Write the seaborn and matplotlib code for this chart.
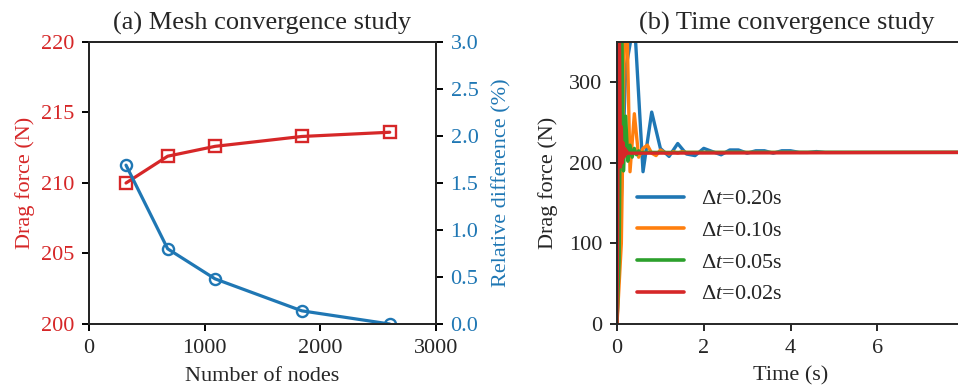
import numpy as np
import pandas as pd
import matplotlib
matplotlib.use("Agg")
import matplotlib.pyplot as plt
import seaborn as sns

# ---- data: (a) mesh convergence ----
nodes = [320, 680, 1090, 1840, 2600]
drag_force = [210.0, 211.9, 212.6, 213.3, 213.6]
rel_diff = [1.69, 0.80, 0.48, 0.14, 0.0]

# ---- data: (b) time convergence ----
t_020 = [0.0, 0.2, 0.4, 0.6, 0.8, 1.0, 1.2, 1.4, 1.6, 1.8, 2.0, 2.2, 2.4, 2.6, 2.8,
         3.0, 3.2, 3.4, 3.6, 3.8, 4.0, 4.2, 4.4, 4.6, 4.8, 8.0]
f_020 = [0, 316, 378, 189, 263, 218, 208, 224, 211, 209, 218, 214, 210, 216, 216,
         212, 215, 215, 212, 215, 215, 213, 213, 214, 213, 213]
t_010 = [0.0, 0.1, 0.2, 0.3, 0.4, 0.5, 0.6, 0.7, 0.8, 0.9, 1.0, 1.1, 1.2, 1.3, 1.4,
         1.5, 1.6, 8.0]
f_010 = [0, 100, 457, 189, 261, 207, 218, 222, 212, 209, 216, 213, 211, 214, 212,
         214, 213, 213]
t_005 = [0.0, 0.05, 0.1, 0.15, 0.2, 0.25, 0.3, 0.35, 0.4, 0.45, 0.5, 0.55, 0.6, 8.0]
f_005 = [0, 80, 430, 190, 258, 202, 222, 207, 218, 210, 215, 212, 213, 213]
t_002 = [0.0, 0.02, 0.04, 0.06, 0.08, 0.1, 0.12, 0.14, 0.16, 0.18, 0.2, 0.22, 0.24, 8.0]
f_002 = [0, 170, 420, 330, 195, 245, 200, 225, 207, 218, 210, 215, 212, 213]
series_labels = [r"$\Delta t$=0.20s", r"$\Delta t$=0.10s", r"$\Delta t$=0.05s", r"$\Delta t$=0.02s"]

RED = "#d62728"
BLUE = "#1f77b4"
palette = ["#1f77b4", "#ff7f0e", "#2ca02c", "#d62728"]

sns.set_style("ticks")
plt.rcParams["font.family"] = ["Liberation Serif", "DejaVu Serif"]
plt.rcParams["mathtext.fontset"] = "custom"
plt.rcParams["mathtext.rm"] = "Liberation Serif"
plt.rcParams["mathtext.it"] = "Liberation Serif:italic"
plt.rcParams["axes.linewidth"] = 1.4
plt.rcParams["xtick.major.width"] = 1.4
plt.rcParams["ytick.major.width"] = 1.4
plt.rcParams["xtick.major.size"] = 5
plt.rcParams["ytick.major.size"] = 5
plt.rcParams["xtick.major.pad"] = 6
plt.rcParams["ytick.major.pad"] = 5.5

FS = 16
fig = plt.figure(figsize=(9.58, 3.88), dpi=100)
W, H = 958.0, 388.0
ax1 = fig.add_axes([89 / W, 1 - 324 / H, 347 / W, 282 / H])
ax3 = fig.add_axes([617 / W, 1 - 324 / H, 347 / W, 282 / H])

# ---- panel (a) ----
dfa = pd.DataFrame({"nodes": nodes, "drag": drag_force, "rel": rel_diff})
sns.lineplot(data=dfa, x="nodes", y="drag", ax=ax1, color=RED, lw=2.3,
             marker="s", markersize=9, markerfacecolor="none",
             markeredgecolor=RED, markeredgewidth=1.7)
ax1.set_xlim(0, 3000)
ax1.set_ylim(200, 220)
ax1.set_xticks([0, 1000, 2000, 3000])
ax1.set_yticks([200, 205, 210, 215, 220])
ax1.set_xlabel("Number of nodes", fontsize=FS, labelpad=6)
ax1.set_ylabel("Drag force (N)", fontsize=FS, color=RED, labelpad=4)
ax1.tick_params(axis="both", labelsize=FS, direction="out", color="black")
ax1.tick_params(axis="y", labelcolor=RED)
ax1.set_title("(a) Mesh convergence study", fontsize=19, pad=9)

ax2 = ax1.twinx()
sns.lineplot(data=dfa, x="nodes", y="rel", ax=ax2, color=BLUE, lw=2.3,
             marker="o", markersize=8, markerfacecolor="none",
             markeredgecolor=BLUE, markeredgewidth=1.7)
ax2.set_ylim(0, 3.0)
ax2.set_yticks([0, 0.5, 1.0, 1.5, 2.0, 2.5, 3.0])
ax2.set_yticklabels(["0.0", "0.5", "1.0", "1.5", "2.0", "2.5", "3.0"])
ax2.set_ylabel("Relative difference (%)", fontsize=FS, color=BLUE, labelpad=10)
ax2.tick_params(axis="y", labelsize=FS, labelcolor=BLUE, direction="out", color="black")
for sp in ax2.spines.values():
    sp.set_linewidth(1.4)

# ---- panel (b) ----
frames = []
for lab, tt, ff in zip(series_labels, [t_020, t_010, t_005, t_002], [f_020, f_010, f_005, f_002]):
    frames.append(pd.DataFrame({"t": tt, "F": ff, "dt": lab}))
dfb = pd.concat(frames, ignore_index=True)
sns.lineplot(data=dfb, x="t", y="F", hue="dt", hue_order=series_labels,
             palette=palette, ax=ax3, lw=2.4, sort=False, estimator=None)
ax3.set_xlim(0, 8)
ax3.set_ylim(0, 350)
ax3.set_xticks([0, 2, 4, 6])
ax3.set_yticks([0, 100, 200, 300])
ax3.set_xlabel("Time (s)", fontsize=FS, labelpad=6)
ax3.set_ylabel("Drag force (N)", fontsize=FS, labelpad=8)
ax3.tick_params(axis="both", labelsize=FS, direction="out")
ax3.set_title("(b) Time convergence study", fontsize=19, pad=9, x=0.49)
leg = ax3.legend(loc="upper left", bbox_to_anchor=(0.0, 0.55), frameon=False,
                 fontsize=FS, handlelength=2.1, handletextpad=0.8, labelspacing=0.5)
for line in leg.get_lines():
    line.set_linewidth(2.6)

fig.savefig("out.png", dpi=100)
